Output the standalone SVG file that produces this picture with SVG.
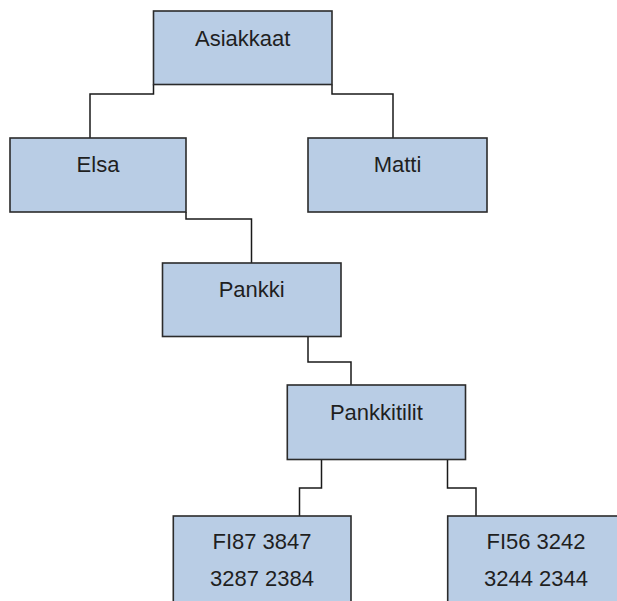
<svg xmlns="http://www.w3.org/2000/svg" width="617" height="601" viewBox="0 0 617 601">
<style>
.box{fill:#b9cde5;stroke:#2b2b2b;stroke-width:1.6}
.lbl{font-family:"Liberation Sans",Arial,sans-serif;font-size:22px;fill:#1f1f1f;text-anchor:middle}
.con{fill:none;stroke:#1a1a1a;stroke-width:1.5}
</style>
<rect width="617" height="601" fill="#ffffff"/>
<g id="connectors">
<path class="con" d="M153.5,84.5 V94 H90 V138"/>
<path class="con" d="M332,84.5 V94 H393 V138"/>
<path class="con" d="M186,212 V219 H251.5 V263"/>
<path class="con" d="M308,336.5 V362 H351 V385"/>
<path class="con" d="M321.5,459.5 V488 H299.5 V516"/>
<path class="con" d="M447.5,459.5 V488 H476 V516"/>
</g>
<g id="asiakkaat"><rect class="box" x="153.5" y="11" width="178.5" height="73.5"/><text class="lbl" x="242.7" y="45.5">Asiakkaat</text></g>
<g id="elsa"><rect class="box" x="10" y="138" width="176" height="74"/><text class="lbl" x="98" y="171.5">Elsa</text></g>
<g id="matti"><rect class="box" x="308" y="138" width="179" height="74"/><text class="lbl" x="397.5" y="171.5">Matti</text></g>
<g id="pankki"><rect class="box" x="162.5" y="263" width="178.5" height="73.5"/><text class="lbl" x="251.7" y="296.5">Pankki</text></g>
<g id="pankkitilit"><rect class="box" x="287.3" y="385" width="178.2" height="74.5"/><text class="lbl" x="376.4" y="419.5">Pankkitilit</text></g>
<g id="tili1"><rect class="box" x="173.3" y="516" width="177.7" height="100"/><text class="lbl" x="262" y="549.3">FI87 3847</text><text class="lbl" x="262" y="585.5">3287 2384</text></g>
<g id="tili2"><rect class="box" x="447.7" y="516" width="178" height="100"/><text class="lbl" x="536" y="549.3">FI56 3242</text><text class="lbl" x="536" y="585.5">3244 2344</text></g>
</svg>
